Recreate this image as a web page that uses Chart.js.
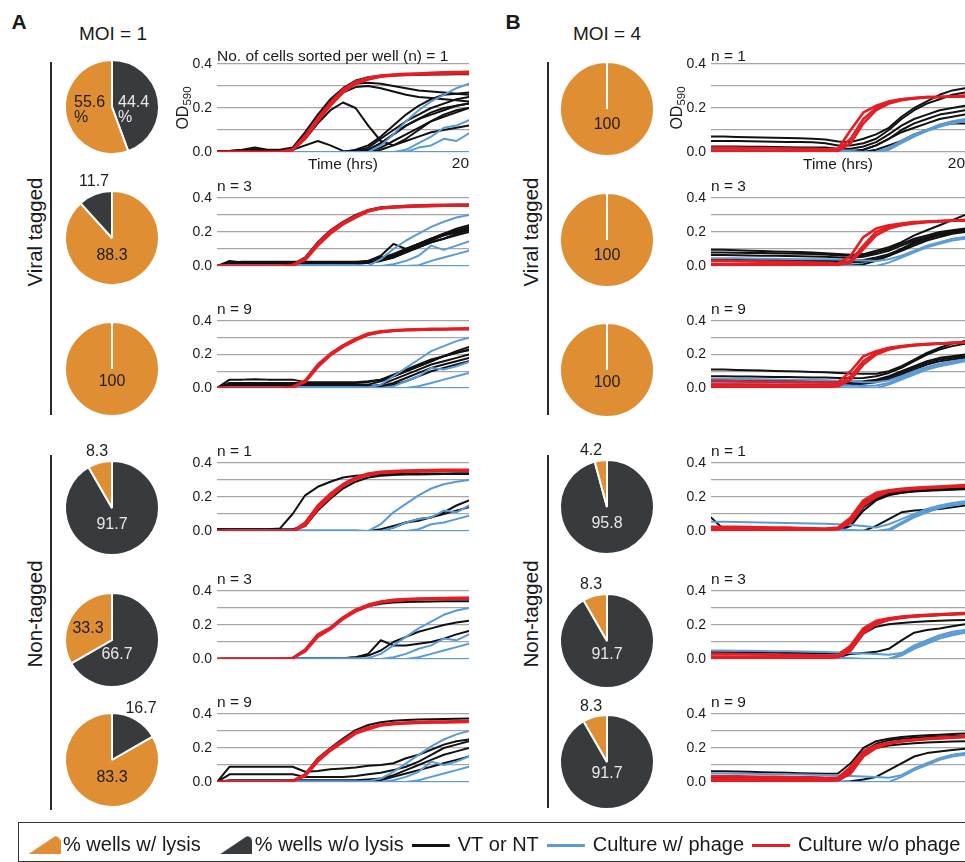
<!DOCTYPE html>
<html><head><meta charset="utf-8">
<script src="https://cdn.jsdelivr.net/npm/chart.js@4.4.1/dist/chart.umd.min.js"></script>
<style>
html,body{margin:0;padding:0;background:#fff;width:965px;height:862px;overflow:hidden;position:relative;font-family:"Liberation Sans",Arial,Helvetica,sans-serif;color:#1a1a1a}
.t{position:absolute;white-space:nowrap;transform:translate(-50%,-50%);line-height:1}
.rot{transform:translate(-50%,-50%) rotate(-90deg)}
.vl{position:absolute;width:1.5px;background:#2a2a2a}
canvas{position:absolute;display:block}
#legbox{position:absolute;left:18px;top:822px;width:970px;height:38px;border:1.3px solid #333}
</style></head><body>
<div class="t" style="left:19px;top:21px;font-size:21px;font-weight:bold">A</div>
<div class="t" style="left:513px;top:21px;font-size:21px;font-weight:bold">B</div>
<div class="t" style="left:113px;top:33px;font-size:19px">MOI = 1</div>
<div class="t" style="left:607px;top:33px;font-size:19px">MOI = 4</div>
<div class="t rot" style="left:35px;top:232px;font-size:20.5px">Viral tagged</div>
<div class="t rot" style="left:35px;top:614px;font-size:20.5px">Non-tagged</div>
<div class="t rot" style="left:531px;top:232px;font-size:20.5px">Viral tagged</div>
<div class="t rot" style="left:531px;top:614px;font-size:20.5px">Non-tagged</div>
<div class="vl" style="left:50px;top:62px;height:353px"></div>
<div class="vl" style="left:50px;top:455px;height:355px"></div>
<div class="vl" style="left:547px;top:62px;height:353px"></div>
<div class="vl" style="left:547px;top:455px;height:353px"></div>
<div id="legbox"></div>
<script>
// ---------------- DATA ----------------
const hours = [0,1,2,3,4,5,6,7,8,9,10,11,12,13,14,15,16,17,18,19,20];
const yTickValues = [0,0.1,0.2,0.3,0.4];
const yTickLabels = ['0.0','','0.2','','0.4'];
const xTickValues = [0,20];
const xTickLabels = ['','20'];
const titlesA = ['No. of cells sorted per well (n) = 1','n = 3','n = 9','n = 1','n = 3','n = 9'];
const titlesB = ['n = 1','n = 3','n = 9','n = 1','n = 3','n = 9'];

// pie values (% wells with / without lysis)
const lysisA   = [55.6, 88.3, 100, 8.3, 33.3, 83.3];
const noLysisA = [44.4, 11.7, 0, 91.7, 66.7, 16.7];
const lysisB   = [100, 100, 100, 4.2, 8.3, 8.3];
const noLysisB = [0, 0, 0, 95.8, 91.7, 91.7];

// MOI = 1, viral tagged, n = 1
const a1Red = [
[0,0,0,0,0,0,.01,.07,.15,.22,.28,.315,.335,.345,.35,.352,.355,.357,.358,.36,.36],
[0,0,0,0,0,0,.008,.06,.14,.21,.27,.31,.33,.342,.348,.35,.352,.354,.356,.357,.357],
[0,0,0,0,0,0,.012,.075,.155,.225,.285,.32,.338,.348,.352,.355,.357,.36,.362,.363,.364]];
const a1Blue = [
[0,0,0,0,0,0,0,0,0,0,0,0,0,.03,.08,.14,.19,.23,.26,.29,.31],
[0,0,0,0,0,0,0,0,0,0,0,0,0,0,0,.01,.04,.07,.11,.12,.145],
[0,0,0,0,0,0,0,0,0,0,0,0,0,0,0,0,.02,.03,.06,.05,.085],
[0,0,0,0,0,0,0,0,0,0,0,0,0,0,0,0,0,0,0,0,0]];
const a1Black = [
[.005,.005,.01,.02,.01,.01,.02,.09,.17,.24,.29,.325,.34,.345,.348,.35,.35,.352,.352,.353,.353],
[.005,.005,.008,.012,.008,.008,.015,.08,.16,.23,.28,.31,.315,.31,.3,.29,.28,.275,.27,.265,.26],
[.005,.005,.008,.01,.008,.008,.012,.07,.15,.22,.27,.295,.3,.29,.275,.26,.25,.245,.24,.235,.23],
[0,.005,.005,.01,.005,.005,.01,.03,.05,.03,.005,0,.01,.04,.08,.12,.15,.18,.2,.21,.22],
[0,0,0,.005,0,0,.01,.06,.13,.19,.225,.2,.12,.05,.03,.06,.1,.14,.17,.19,.2],
[0,0,0,0,0,0,0,0,0,0,0,.005,.02,.06,.1,.14,.17,.2,.22,.24,.25],
[0,0,0,0,0,0,0,0,0,0,0,0,.01,.04,.08,.12,.15,.17,.19,.21,.22],
[0,0,0,0,0,0,0,0,0,0,0,0,.005,.02,.05,.08,.11,.14,.16,.18,.2],
[0,0,0,0,0,0,0,0,0,0,0,0,0,.01,.03,.05,.07,.09,.1,.11,.12],
[0,0,0,0,0,0,0,0,0,0,0,.01,.03,.07,.12,.17,.21,.24,.26,.265,.27]];

// MOI = 1, viral tagged, n = 3
const a2Red = [
[0,0,0,0,0,0,.005,.04,.13,.2,.25,.29,.325,.34,.345,.35,.352,.354,.355,.356,.356],
[0,0,0,0,0,0,.004,.035,.12,.19,.245,.285,.32,.338,.344,.348,.35,.352,.354,.355,.355],
[0,0,0,0,0,0,.006,.045,.135,.205,.255,.295,.328,.342,.348,.352,.355,.357,.358,.359,.36]];
const a2Blue = [
[0,.005,.005,.005,.005,.005,.005,.005,.005,.005,.005,.005,0,.04,.1,.15,.19,.23,.26,.285,.3],
[0,.005,.005,.005,.005,.005,.005,.005,.005,.005,.005,.005,0,0,.01,.03,.06,.12,.095,.12,.145],
[0,0,0,0,0,0,0,0,0,0,0,0,0,0,0,0,.005,.03,.05,.07,.09],
[0,0,0,0,0,0,0,0,0,0,0,0,0,0,0,0,0,0,0,0,0]];
const a2Black = [
[0,.03,.02,.02,.02,.02,.02,.02,.02,.02,.02,.02,.03,.05,.07,.1,.13,.16,.19,.22,.24],
[0,.015,.015,.015,.015,.015,.015,.015,.015,.015,.015,.015,.02,.04,.06,.09,.12,.15,.18,.2,.22],
[0,.02,.025,.025,.025,.025,.025,.025,.025,.025,.025,.025,.03,.06,.13,.1,.13,.16,.19,.21,.23],
[0,.01,.015,.015,.015,.015,.015,.015,.015,.015,.015,.015,.02,.03,.05,.08,.11,.14,.16,.19,.21],
[0,0,0,0,0,0,.01,.05,.14,.21,.26,.3,.33,.345,.35,.355,.358,.36,.36,.362,.362],
[0,.01,.01,.01,.01,.01,.01,.01,.01,.01,.01,.01,.02,.04,.07,.1,.13,.16,.18,.2,.215],
[0,.02,.02,.02,.02,.02,.02,.02,.02,.02,.02,.02,.02,.03,.05,.08,.11,.14,.16,.18,.2]];

// MOI = 1, viral tagged, n = 9
const a3Red = [
[0,0,0,0,0,0,.005,.04,.13,.2,.25,.29,.32,.335,.342,.346,.348,.35,.351,.352,.352],
[0,0,0,0,0,0,.004,.035,.125,.195,.245,.285,.318,.333,.34,.345,.347,.349,.35,.351,.351],
[0,0,0,0,0,0,.006,.045,.14,.205,.255,.295,.325,.338,.345,.349,.351,.353,.354,.355,.356]];
const a3Blue = [
[0,.005,.005,.005,.005,.005,.005,.005,.005,.005,.005,.005,.005,.02,.07,.12,.17,.22,.25,.28,.3],
[0,.005,.005,.005,.005,.005,.005,.005,.005,.005,.005,.005,0,0,.01,.04,.07,.12,.11,.13,.155],
[0,0,0,0,0,0,0,0,0,0,0,0,0,0,0,0,.01,.03,.05,.07,.09],
[0,0,0,0,0,0,0,0,0,0,0,0,0,0,0,0,0,0,0,0,0]];
const a3Black = [
[0,.05,.05,.052,.05,.05,.05,.035,.035,.035,.035,.035,.04,.05,.07,.1,.13,.16,.19,.21,.23],
[0,.02,.02,.02,.02,.02,.02,.02,.02,.02,.02,.02,.02,.04,.07,.1,.13,.16,.19,.22,.245],
[0,.01,.01,.01,.01,.01,.01,.01,.01,.01,.01,.01,.01,.02,.05,.08,.11,.14,.16,.18,.2],
[0,.01,.01,.01,.01,.01,.01,.01,.01,.01,.01,.01,.01,.01,.03,.06,.09,.12,.14,.16,.18],
[0,0,0,0,0,0,0,0,0,0,0,0,0,0,.02,.04,.07,.1,.12,.14,.16],
[0,.03,.03,.03,.03,.03,.03,.03,.03,.03,.03,.03,.035,.05,.08,.11,.14,.17,.19,.21,.225]];

// MOI = 1, non-tagged, n = 1
const a4Red = [
[0,0,0,0,0,0,0,.04,.14,.21,.27,.31,.335,.345,.348,.35,.352,.354,.355,.356,.357],
[0,0,0,0,0,0,0,.03,.13,.2,.265,.305,.33,.342,.346,.349,.351,.352,.354,.355,.355],
[0,0,0,0,0,0,0,.05,.15,.22,.275,.315,.338,.348,.352,.355,.357,.358,.36,.36,.36]];
const a4Blue = [
[0,.005,.005,.005,.005,.005,.005,.005,.005,.005,.005,.005,0,.04,.11,.16,.21,.25,.275,.29,.3],
[0,0,0,0,0,0,0,0,0,0,0,0,0,0,.02,.05,.07,.08,.12,.11,.15],
[0,0,0,0,0,0,0,0,0,0,0,0,0,0,0,0,.01,.04,.05,.07,.09],
[0,0,0,0,0,0,0,0,0,0,0,0,0,0,0,0,0,0,0,0,0]];
const a4Black = [
[.01,.01,.01,.01,.01,.015,.1,.21,.26,.29,.315,.325,.33,.333,.335,.336,.337,.338,.338,.34,.34],
[.01,.01,.01,.01,.01,.01,.01,.03,.12,.19,.25,.29,.315,.325,.33,.332,.333,.334,.335,.335,.335],
[0,0,0,0,0,0,0,0,0,0,0,0,0,0,.02,.05,.07,.08,.11,.15,.18],
[0,0,0,0,0,0,0,0,0,0,0,0,0,.01,.03,.05,.06,.08,.1,.12,.14]];

// MOI = 1, non-tagged, n = 3
const a5Red = [
[0,0,0,0,0,0,.005,.05,.14,.18,.24,.285,.315,.335,.345,.35,.352,.354,.356,.357,.358],
[0,0,0,0,0,0,.004,.045,.13,.175,.235,.28,.31,.332,.342,.347,.35,.352,.353,.354,.355],
[0,0,0,0,0,0,.006,.055,.145,.185,.245,.29,.32,.338,.348,.352,.355,.357,.358,.36,.36]];
const a5Blue = [
[0,.005,.005,.005,.005,.005,.005,.005,.005,.005,.005,.005,.005,.03,.08,.13,.18,.22,.26,.285,.3],
[0,0,0,0,0,0,0,0,0,0,0,0,0,0,.01,.03,.06,.08,.12,.11,.145],
[0,0,0,0,0,0,0,0,0,0,0,0,0,0,0,0,.01,.03,.05,.07,.09],
[0,0,0,0,0,0,0,0,0,0,0,0,0,0,0,0,0,0,0,0,0]];
const a5Black = [
[0,0,0,0,0,0,.005,.05,.14,.18,.24,.28,.31,.325,.332,.335,.337,.338,.339,.34,.34],
[0,.005,.005,.005,.005,.005,.005,.005,.005,.005,.005,.01,.03,.11,.08,.08,.09,.1,.12,.145,.165],
[0,.005,.005,.005,.005,.005,.005,.005,.005,.005,.005,.01,.02,.05,.1,.13,.16,.18,.2,.215,.225]];

// MOI = 1, non-tagged, n = 9
const a6Red = [
[0,0,0,0,0,0,.005,.04,.13,.19,.24,.29,.315,.335,.343,.347,.35,.352,.353,.354,.355],
[0,0,0,0,0,0,.004,.035,.12,.185,.235,.285,.31,.332,.34,.345,.348,.35,.351,.352,.353],
[0,0,0,0,0,0,.006,.045,.135,.195,.245,.295,.32,.338,.346,.35,.353,.355,.356,.357,.358]];
const a6Blue = [
[0,.005,.005,.005,.005,.005,.005,.005,.005,.005,.005,.005,.005,.02,.06,.11,.16,.21,.25,.28,.3],
[0,0,0,0,0,0,0,0,0,0,0,0,0,0,.01,.03,.06,.12,.1,.12,.15],
[0,0,0,0,0,0,0,0,0,0,0,0,0,0,0,0,.01,.03,.05,.07,.09],
[0,0,0,0,0,0,0,0,0,0,0,0,0,0,0,0,0,0,0,0,0]];
const a6Black = [
[0,0,0,0,0,0,.005,.045,.14,.2,.255,.305,.335,.352,.36,.364,.367,.369,.37,.372,.373],
[0,.09,.09,.09,.09,.09,.09,.06,.065,.075,.08,.085,.095,.1,.11,.14,.16,.19,.22,.24,.25],
[0,.045,.045,.045,.045,.045,.045,.03,.03,.03,.03,.035,.045,.055,.07,.09,.12,.16,.2,.22,.24],
[0,.01,.01,.01,.01,.01,.01,.01,.01,.01,.01,.01,.015,.02,.04,.07,.1,.13,.16,.18,.2],
[0,0,0,0,0,0,0,0,0,0,0,0,0,.01,.03,.05,.07,.09,.11,.13,.15]];

// MOI = 4, viral tagged, n = 1
const b1Red = [
[.02,.02,.02,.018,.018,.017,.016,.015,.015,.012,.015,.1,.18,.21,.23,.24,.245,.25,.25,.252,.255],
[.005,.005,.005,.005,.005,.005,.005,.005,.005,.005,.01,.06,.15,.2,.225,.24,.245,.25,.25,.252,.255],
[0,0,0,0,0,0,0,0,0,0,.005,.04,.13,.19,.22,.235,.243,.248,.25,.251,.253]];
const b1Blue = [
[.015,.015,.015,.015,.014,.013,.012,.012,.011,.01,.008,.005,0,0,.02,.05,.08,.1,.125,.14,.15],
[.005,.005,.005,.005,.005,.005,.005,.005,.005,.004,.003,0,0,0,.015,.045,.075,.1,.12,.135,.145],
[0,0,0,0,0,0,0,0,0,0,0,0,0,0,.01,.04,.07,.095,.115,.13,.14]];
const b1Black = [
[.07,.07,.068,.067,.066,.065,.064,.062,.06,.057,.048,.045,.06,.08,.11,.16,.2,.23,.26,.28,.29],
[.05,.05,.05,.049,.048,.047,.046,.045,.044,.04,.03,.03,.04,.06,.1,.15,.19,.22,.24,.26,.27],
[.025,.025,.025,.024,.024,.023,.022,.02,.02,.02,.015,.015,.025,.045,.08,.12,.15,.17,.19,.2,.21],
[.01,.01,.01,.01,.01,.01,.01,.01,.01,.008,.005,.005,.01,.03,.06,.1,.13,.15,.17,.18,.19],
[0,0,0,0,0,0,0,0,0,0,0,0,.01,.03,.06,.09,.11,.13,.15,.16,.17],
[0,0,0,0,0,0,0,0,0,0,0,0,0,.01,.03,.05,.08,.1,.12,.13,.13]];

// MOI = 4, viral tagged, n = 3
const b2Red = [
[.03,.03,.028,.027,.026,.025,.024,.022,.02,.018,.015,.06,.17,.22,.24,.25,.258,.262,.265,.268,.27],
[.012,.012,.012,.012,.011,.011,.01,.01,.01,.01,.012,.03,.12,.2,.23,.245,.255,.26,.264,.267,.27],
[.005,.005,.005,.005,.005,.005,.005,.005,.005,.005,.008,.02,.1,.18,.22,.24,.25,.257,.262,.266,.268]];
const b2Blue = [
[.045,.045,.045,.044,.043,.042,.041,.04,.04,.039,.038,.035,.032,.03,.04,.06,.09,.12,.14,.16,.17],
[.01,.01,.01,.01,.01,.01,.01,.01,.009,.008,.006,.003,0,0,.02,.05,.08,.11,.13,.15,.16]];
const b2Black = [
[.095,.095,.093,.09,.088,.086,.084,.082,.08,.075,.07,.066,.07,.09,.11,.14,.18,.21,.24,.27,.3],
[.08,.08,.078,.077,.076,.075,.073,.072,.07,.067,.062,.06,.065,.08,.1,.13,.16,.18,.2,.21,.22],
[.064,.064,.063,.062,.061,.06,.059,.058,.056,.054,.05,.048,.055,.07,.09,.12,.15,.17,.19,.2,.21],
[.04,.04,.04,.039,.038,.037,.036,.035,.034,.032,.03,.03,.035,.05,.07,.1,.13,.16,.18,.195,.205],
[.03,.03,.03,.029,.028,.027,.026,.025,.024,.022,.02,.02,.025,.04,.06,.09,.12,.15,.17,.19,.2],
[.01,.01,.01,.01,.01,.01,.01,.01,.01,.01,.008,.005,.01,.03,.06,.1,.14,.17,.19,.205,.215]];

// MOI = 4, viral tagged, n = 9
const b3Red = [
[.042,.042,.04,.039,.038,.037,.036,.035,.034,.033,.035,.1,.19,.22,.24,.25,.258,.262,.266,.27,.273],
[.02,.02,.02,.019,.019,.018,.018,.017,.017,.016,.02,.07,.16,.21,.235,.248,.256,.262,.266,.27,.272],
[.005,.005,.005,.005,.005,.005,.005,.005,.005,.005,.01,.05,.14,.2,.23,.245,.254,.26,.265,.268,.27]];
const b3Blue = [
[.055,.055,.054,.053,.052,.051,.05,.049,.048,.046,.043,.04,.035,.035,.045,.07,.1,.125,.145,.16,.17],
[.03,.03,.03,.029,.028,.027,.026,.025,.024,.022,.02,.015,.012,.015,.03,.06,.09,.12,.14,.155,.165],
[.01,.01,.01,.01,.01,.01,.01,.01,.01,.008,.006,.003,0,0,.02,.05,.08,.11,.13,.145,.16]];
const b3Black = [
[.11,.11,.108,.106,.104,.102,.1,.098,.096,.094,.09,.086,.085,.085,.1,.13,.17,.21,.24,.265,.28],
[.07,.07,.069,.068,.067,.066,.065,.064,.063,.062,.06,.058,.06,.07,.09,.12,.16,.2,.23,.25,.265],
[.05,.05,.05,.049,.048,.047,.046,.045,.044,.043,.04,.038,.04,.05,.07,.1,.13,.16,.18,.19,.2],
[.04,.04,.04,.039,.038,.037,.036,.035,.034,.033,.03,.03,.032,.045,.065,.09,.12,.15,.17,.18,.19],
[.03,.03,.03,.029,.028,.027,.026,.025,.024,.023,.02,.02,.025,.035,.055,.08,.11,.14,.16,.17,.18]];

// MOI = 4, non-tagged, n = 1
const b4Red = [
[.025,.025,.024,.023,.022,.021,.02,.018,.016,.015,.02,.08,.18,.225,.24,.248,.254,.258,.262,.266,.27],
[.01,.01,.01,.01,.01,.01,.01,.01,.01,.01,.015,.06,.16,.215,.235,.245,.25,.255,.258,.262,.265],
[.005,.005,.005,.005,.005,.005,.005,.005,.005,.005,.01,.05,.15,.2,.23,.24,.247,.252,.256,.26,.262]];
const b4Blue = [
[.055,.055,.053,.052,.05,.049,.047,.046,.044,.042,.04,.036,.03,.02,.04,.07,.1,.13,.15,.165,.175],
[.005,.005,.005,.005,.005,.005,.005,.005,.005,.004,.003,0,0,0,0,.04,.08,.11,.135,.15,.16],
[.015,.015,.015,.015,.015,.014,.014,.013,.012,.011,.01,.006,.003,0,.01,.05,.09,.12,.14,.155,.165]];
const b4Black = [
[.08,.01,.005,.005,.005,.005,.005,.005,.005,.005,.01,.07,.17,.21,.225,.232,.237,.24,.243,.246,.25],
[0,0,0,0,0,0,0,0,0,0,.005,.05,.16,.2,.22,.23,.235,.24,.245,.25,.255],
[0,0,0,0,0,0,0,0,0,0,.005,.04,.14,.19,.215,.225,.232,.237,.24,.243,.245],
[0,0,0,0,0,0,0,0,0,0,0,.03,.12,.18,.21,.225,.235,.24,.245,.25,.26],
[0,0,0,0,0,0,0,0,0,0,0,0,0,.03,.07,.11,.12,.125,.13,.14,.15]];

// MOI = 4, non-tagged, n = 3
const b5Red = [
[.03,.03,.029,.028,.027,.026,.025,.024,.022,.02,.02,.08,.18,.225,.24,.25,.255,.26,.263,.267,.27],
[.015,.015,.015,.015,.015,.014,.014,.013,.013,.012,.015,.06,.16,.215,.235,.245,.252,.257,.261,.265,.268],
[.005,.005,.005,.005,.005,.005,.005,.005,.005,.005,.01,.05,.15,.205,.23,.242,.25,.255,.26,.263,.265]];
const b5Blue = [
[.05,.05,.049,.048,.047,.046,.045,.044,.043,.041,.038,.035,.032,.03,.025,.035,.08,.11,.14,.16,.17],
[.01,.01,.01,.01,.01,.01,.01,.01,.01,.009,.007,.005,.002,0,0,.03,.07,.1,.13,.15,.16],
[.005,.005,.005,.005,.005,.005,.005,.005,.005,.004,.003,0,0,0,0,.02,.06,.09,.12,.14,.155]];
const b5Black = [
[.04,.04,.04,.039,.038,.037,.036,.035,.034,.033,.032,.07,.17,.22,.235,.245,.25,.255,.258,.262,.265],
[0,0,0,0,0,0,0,0,0,0,.005,.05,.15,.19,.205,.212,.218,.222,.225,.228,.23],
[0,0,0,0,0,0,0,0,0,0,.01,.03,.035,.042,.06,.11,.155,.17,.18,.193,.205]];

// MOI = 4, non-tagged, n = 9
const b6Red = [
[.034,.034,.033,.032,.031,.03,.029,.028,.027,.025,.025,.09,.18,.215,.232,.242,.25,.256,.261,.265,.27],
[.02,.02,.02,.02,.019,.019,.018,.018,.017,.016,.018,.07,.165,.205,.228,.24,.248,.254,.258,.262,.266],
[.005,.005,.005,.005,.005,.005,.005,.005,.005,.005,.01,.05,.15,.2,.225,.238,.246,.252,.256,.26,.263]];
const b6Blue = [
[.05,.05,.049,.048,.047,.046,.045,.044,.043,.041,.038,.035,.032,.03,.025,.04,.08,.11,.14,.16,.17],
[.005,.005,.005,.005,.005,.005,.005,.005,.005,.004,.003,0,0,0,0,.03,.07,.1,.13,.15,.16]];
const b6Black = [
[.063,.063,.062,.06,.058,.056,.054,.052,.05,.048,.05,.11,.2,.24,.255,.265,.27,.275,.278,.282,.285],
[.03,.03,.03,.029,.028,.027,.026,.025,.024,.023,.025,.08,.18,.225,.245,.255,.26,.264,.267,.27,.272],
[0,0,0,0,0,0,0,0,0,0,.005,.06,.16,.2,.215,.222,.228,.232,.235,.238,.24],
[0,0,0,0,0,0,0,0,0,0,0,.005,.015,.03,.07,.11,.15,.17,.18,.188,.195]];

const legendLabels = ['% wells w/ lysis','% wells w/o lysis','VT or NT','Culture w/ phage','Culture w/o phage'];

// ---------------- STYLE / LAYOUT ----------------
const FF = '"Liberation Sans", Arial, Helvetica, sans-serif';
Chart.defaults.font.family = FF;
Chart.defaults.color = '#1a1a1a';
const COL = {black:'#111111', blue:'#5B9BD5', red:'#E31E24', orange:'#DF8E34', dark:'#383B3E',
             onOrange:'#1e1e1e', onDark:'#e9e9e9', outside:'#1e1e1e'};
const colLeft = {A:170, B:664};
const colWidth = {A:299, B:301};
const rowTop = [64, 198, 321, 463, 591, 714];
const rowBottom = [152, 288, 410, 553, 681, 804];
const pieX = {A:112, B:607};
const pieYA = [107, 238, 369, 508, 640, 760];
const pieYB = [109, 240, 370, 507, 641, 762];
const darkFirstA = [true, false, true, true, true, true];
const darkFirstB = [true, true, true, true, true, true];
const pieLabelsA = [
  [{w:'lysis',dx:-38,dy:-4,align:'left',pct:true,c:'onOrange'},{w:'noLysis',dx:6,dy:-4,align:'left',pct:true,c:'onDark'}],
  [{w:'lysis',dx:0,dy:18,c:'onOrange'},{w:'noLysis',dx:-18,dy:-56,c:'outside'}],
  [{w:'lysis',dx:0,dy:13,c:'onOrange'}],
  [{w:'lysis',dx:-15,dy:-56,c:'outside'},{w:'noLysis',dx:0,dy:17,c:'onDark'}],
  [{w:'lysis',dx:-24,dy:-11,c:'onOrange'},{w:'noLysis',dx:5,dy:15,c:'onDark'}],
  [{w:'noLysis',dx:29,dy:-51,c:'outside'},{w:'lysis',dx:0,dy:18,c:'onOrange'}]];
const pieLabelsB = [
  [{w:'lysis',dx:0,dy:16,c:'onOrange'}],
  [{w:'lysis',dx:0,dy:16,c:'onOrange'}],
  [{w:'lysis',dx:0,dy:13,c:'onOrange'}],
  [{w:'lysis',dx:-16,dy:-56,c:'outside'},{w:'noLysis',dx:0,dy:17,c:'onDark'}],
  [{w:'lysis',dx:-16,dy:-56,c:'outside'},{w:'noLysis',dx:0,dy:14,c:'onDark'}],
  [{w:'lysis',dx:-16,dy:-55,c:'outside'},{w:'noLysis',dx:0,dy:12,c:'onDark'}]];

function makeCanvas(left, top, w, h){
  const c = document.createElement('canvas');
  c.width = w; c.height = h;
  c.style.left = left + 'px'; c.style.top = top + 'px';
  c.style.width = w + 'px'; c.style.height = h + 'px';
  document.body.appendChild(c);
  return c;
}

// y-axis title "OD590" with subscript, drawn rotated at the left of the axis
const odTitlePlugin = {
  id:'odTitle',
  afterDraw(chart, args, opts){
    if (!opts.show) return;
    const {ctx, chartArea:a} = chart;
    ctx.save();
    ctx.translate(a.left - 35, (a.top + a.bottom) / 2);
    ctx.rotate(-Math.PI / 2);
    ctx.fillStyle = '#1a1a1a';
    ctx.textBaseline = 'alphabetic';
    ctx.textAlign = 'left';
    ctx.font = '16px ' + FF; const w1 = ctx.measureText(opts.main).width;
    ctx.font = '11.5px ' + FF; const w2 = ctx.measureText(opts.sub).width;
    const x0 = -(w1 + w2) / 2;
    ctx.font = '16px ' + FF; ctx.fillText(opts.main, x0, 6);
    ctx.font = '11.5px ' + FF; ctx.fillText(opts.sub, x0 + w1, 9);
    ctx.restore();
  }
};

function lineChart(col, row, red, blue, black, title){
  const first = row === 0;
  const titleH = first ? 16 : 20;
  const P = first ? 22 : 10;
  const top = rowTop[row] - titleH;
  const H = rowBottom[row] - rowTop[row] + titleH + P;
  const cv = makeCanvas(colLeft[col], top, colWidth[col], H);
  const ds = [];
  const common = {pointRadius:0, fill:false, tension:0, borderJoinStyle:'round', borderCapStyle:'round'};
  red.forEach(d => ds.push(Object.assign({data:d, borderColor:COL.red, borderWidth:2.6}, common)));
  blue.forEach(d => ds.push(Object.assign({data:d, borderColor:COL.blue, borderWidth:2}, common)));
  black.forEach(d => ds.push(Object.assign({data:d, borderColor:COL.black, borderWidth:2}, common)));
  new Chart(cv, {
    type:'line',
    data:{labels:hours, datasets:ds},
    options:{
      responsive:false, animation:false, events:[], devicePixelRatio:1,
      layout:{padding:{top:0,left:0,right:0,bottom: first ? 0 : 10}},
      plugins:{
        legend:{display:false}, tooltip:{enabled:false},
        title:{display:true, text:title, align:'start', fullSize:false, color:'#1a1a1a',
               font:{size:15.5, lineHeight:'18px', weight:'normal'}, padding:{top:0, bottom: first ? -2 : 2}},
        odTitle:{show:first, main:'OD', sub:'590'}
      },
      scales:{
        x:{type:'linear', min:0, max:20, display:first,
           grid:{display:false, drawTicks:false}, border:{display:false},
           afterBuildTicks:s => { s.ticks = xTickValues.map(v => ({value:v})); },
           ticks:{align:'end', padding:2, maxRotation:0, autoSkip:false, font:{size:15.5}, color:'#1a1a1a',
                  callback:(v,i) => xTickLabels[i]},
           title:{display:true, text:'Time (hrs)', color:'#1a1a1a', font:{size:15.5, lineHeight:'18px'}, padding:{top:0,bottom:0}},
           afterFit:s => { s.height = 22; s.paddingLeft = 0; s.paddingRight = 0; }},
        y:{min:0, max:0.4,
           afterBuildTicks:s => { s.ticks = yTickValues.map(v => ({value:v})); },
           ticks:{padding:5, autoSkip:false, font:{size:14}, color:'#1a1a1a', callback:(v,i) => yTickLabels[i]},
           grid:{color:'#a6a6a6', lineWidth:1.3, drawTicks:false}, border:{display:false},
           title:{display:false},
           afterFit:s => { s.width = 47; }}
      }
    },
    plugins:[odTitlePlugin]
  });
}

const pieLabelPlugin = {
  id:'pieLabels',
  afterDatasetsDraw(chart, args, opts){
    const {ctx, chartArea:a} = chart;
    const cx = (a.left + a.right) / 2, cy = (a.top + a.bottom) / 2;
    ctx.save();
    ctx.font = '16px ' + FF;
    ctx.textBaseline = 'middle';
    (opts.items || []).forEach(it => {
      ctx.fillStyle = it.color;
      ctx.textAlign = it.align || 'center';
      it.lines.forEach((ln, k) => ctx.fillText(ln, cx + it.dx, cy + it.dy + k * 15));
    });
    ctx.restore();
  }
};

function pieChart(cx, cy, lysis, noLysis, darkFirst, labels){
  const cv = makeCanvas(cx - 70, cy - 70, 140, 140);
  const vals = darkFirst ? [noLysis, lysis] : [lysis, noLysis];
  const cols = darkFirst ? [COL.dark, COL.orange] : [COL.orange, COL.dark];
  const items = labels.map(l => {
    const v = l.w === 'lysis' ? lysis : noLysis;
    return {dx:l.dx, dy:l.dy, align:l.align, color:COL[l.c], lines: l.pct ? [String(v), '%'] : [String(v)]};
  });
  new Chart(cv, {
    type:'pie',
    data:{labels:['a','b'], datasets:[{data:vals, backgroundColor:cols, borderColor:'#ffffff', borderWidth:2}]},
    options:{responsive:false, animation:false, events:[], devicePixelRatio:1,
      layout:{padding:22},
      plugins:{legend:{display:false}, tooltip:{enabled:false}, pieLabels:{items}}},
    plugins:[pieLabelPlugin]
  });
}

// ---------------- BUILD ----------------
const seriesA = [[a1Red,a1Blue,a1Black],[a2Red,a2Blue,a2Black],[a3Red,a3Blue,a3Black],
                 [a4Red,a4Blue,a4Black],[a5Red,a5Blue,a5Black],[a6Red,a6Blue,a6Black]];
const seriesB = [[b1Red,b1Blue,b1Black],[b2Red,b2Blue,b2Black],[b3Red,b3Blue,b3Black],
                 [b4Red,b4Blue,b4Black],[b5Red,b5Blue,b5Black],[b6Red,b6Blue,b6Black]];
for (let r = 0; r < 6; r++){
  lineChart('A', r, seriesA[r][0], seriesA[r][1], seriesA[r][2], titlesA[r]);
  lineChart('B', r, seriesB[r][0], seriesB[r][1], seriesB[r][2], titlesB[r]);
  pieChart(pieX.A, pieYA[r], lysisA[r], noLysisA[r], darkFirstA[r], pieLabelsA[r]);
  pieChart(pieX.B, pieYB[r], lysisB[r], noLysisB[r], darkFirstB[r], pieLabelsB[r]);
}

// legend (icons: wedge drawn at the right of its box, line at the left of its box)
function wedgeIcon(color){
  const c = document.createElement('canvas'); c.width = 42; c.height = 18;
  const g = c.getContext('2d'); g.fillStyle = color; g.beginPath();
  g.moveTo(10,18); g.lineTo(42,18); g.lineTo(42,5); g.quadraticCurveTo(41,0.5,36.5,0.3); g.closePath(); g.fill();
  return c;
}
function lineIcon(color){
  const c = document.createElement('canvas'); c.width = 45; c.height = 3;
  const g = c.getContext('2d'); g.fillStyle = color; g.fillRect(0,0,38,3);
  return c;
}
const legendColors = [COL.orange, COL.dark, COL.black, COL.blue, COL.red];
const legendIcons = [wedgeIcon(COL.orange), wedgeIcon(COL.dark), lineIcon(COL.black), lineIcon(COL.blue), lineIcon(COL.red)];
const lcv = makeCanvas(9, 818, 1150, 170);
new Chart(lcv, {
  type:'line',
  data:{labels:[], datasets: legendLabels.map((l,i) => ({label:l, data:[], pointStyle:legendIcons[i], borderColor:legendColors[i], backgroundColor:legendColors[i]}))},
  options:{responsive:false, animation:false, events:[], devicePixelRatio:1, layout:{padding:0},
    scales:{x:{display:false}, y:{display:false}},
    plugins:{tooltip:{enabled:false},
      legend:{display:true, position:'top', align:'start',
        labels:{usePointStyle:true, pointStyleWidth:27, padding:17, font:{size:20}, color:'#1a1a1a'}}}}
});
</script>
</body></html>
